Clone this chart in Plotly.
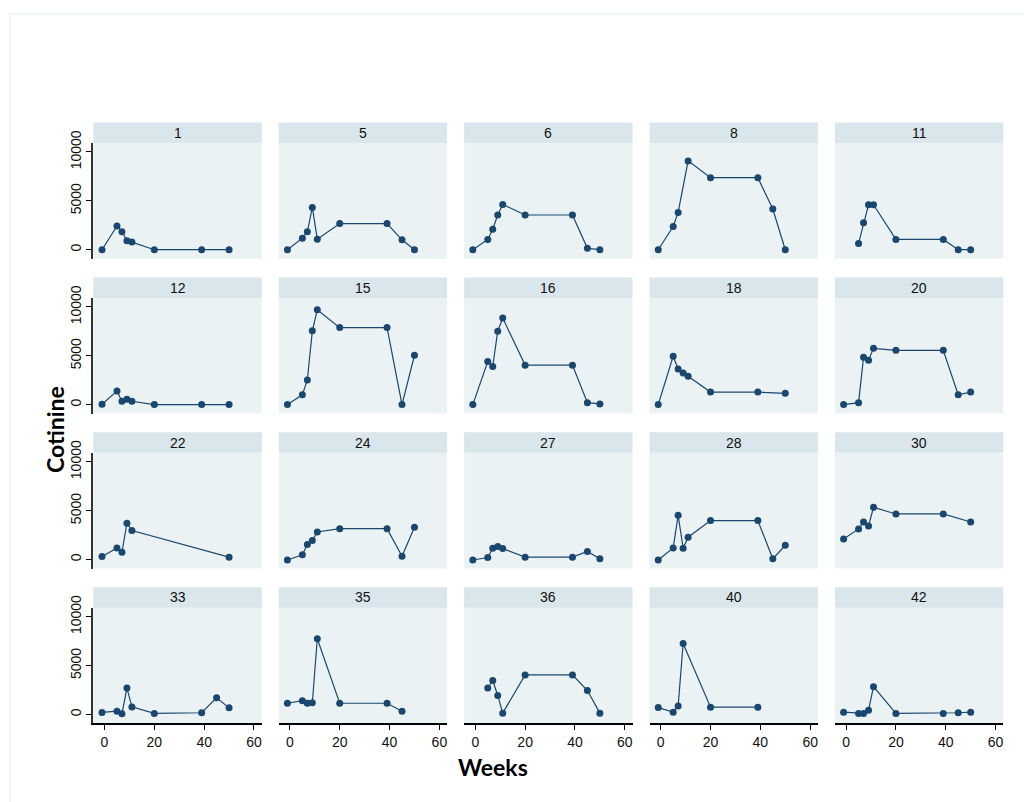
import plotly.graph_objects as go

# ---- data ----
ids = [1, 5, 6, 8, 11, 12, 15, 16, 18, 20, 22, 24, 27, 28, 30, 33, 35, 36, 40, 42]

w1 = [-1, 5, 7, 9, 11, 20, 39, 50]
c1 = [0, 2430, 1830, 910, 780, 0, 0, 0]
w5 = [-1, 5, 7, 9, 11, 20, 39, 45, 50]
c5 = [0, 1180, 1830, 4330, 1080, 2670, 2670, 1010, 0]
w6 = [-1, 5, 7, 9, 11, 20, 39, 45, 50]
c6 = [0, 1050, 2100, 3550, 4630, 3550, 3550, 140, 0]
w8 = [-1, 5, 7, 11, 20, 39, 45, 50]
c8 = [0, 2370, 3820, 9090, 7370, 7370, 4160, 0]
w11 = [5, 7, 9, 11, 20, 39, 45, 50]
c11 = [640, 2770, 4600, 4600, 1050, 1050, 0, 0]
w12 = [-1, 5, 7, 9, 11, 20, 39, 50]
c12 = [30, 1380, 340, 540, 340, 0, 0, 0]
w15 = [-1, 5, 7, 9, 11, 20, 39, 45, 50]
c15 = [0, 1010, 2530, 7550, 9700, 7880, 7880, 0, 5050]
w16 = [-1, 5, 7, 9, 11, 20, 39, 45, 50]
c16 = [0, 4410, 3910, 7510, 8860, 4040, 4040, 200, 70]
w18 = [-1, 5, 7, 9, 11, 20, 39, 50]
c18 = [0, 4950, 3640, 3240, 2900, 1280, 1280, 1150]
w20 = [-1, 5, 7, 9, 11, 20, 39, 45, 50]
c20 = [0, 200, 4850, 4550, 5760, 5560, 5560, 1010, 1280]
w22 = [-1, 5, 7, 9, 11, 50]
c22 = [310, 1190, 750, 3710, 2960, 240]
w24 = [-1, 5, 7, 9, 11, 20, 39, 45, 50]
c24 = [-50, 480, 1530, 1940, 2820, 3160, 3160, 340, 3300]
w27 = [-1, 5, 7, 9, 11, 20, 39, 45, 50]
c27 = [-50, 200, 1160, 1330, 1120, 240, 240, 820, 70]
w28 = [-1, 5, 7, 9, 11, 20, 39, 45, 50]
c28 = [-50, 1190, 4520, 1160, 2280, 3980, 3980, 70, 1460]
w30 = [-1, 5, 7, 9, 11, 20, 39, 50]
c30 = [2110, 3130, 3840, 3430, 5340, 4660, 4660, 3840]
w33 = [-1, 5, 7, 9, 11, 20, 39, 45, 50]
c33 = [200, 330, 70, 2700, 770, 100, 170, 1700, 670]
w35 = [-1, 5, 7, 9, 11, 20, 39, 45]
c35 = [1140, 1400, 1140, 1200, 7750, 1140, 1140, 330]
w36 = [5, 7, 9, 11, 20, 39, 45, 50]
c36 = [2700, 3470, 1940, 130, 4040, 4040, 2440, 130]
w40 = [-1, 5, 7, 9, 20, 39]
c40 = [700, 230, 870, 7250, 740, 740]
w42 = [-1, 5, 7, 9, 11, 20, 39, 45, 50]
c42 = [230, 100, 100, 430, 2840, 100, 100, 170, 230]

series = [(w1, c1), (w5, c5), (w6, c6), (w8, c8), (w11, c11),
          (w12, c12), (w15, c15), (w16, c16), (w18, c18), (w20, c20),
          (w22, c22), (w24, c24), (w27, c27), (w28, c28), (w30, c30),
          (w33, c33), (w35, c35), (w36, c36), (w40, c40), (w42, c42)]

x_ticks = [0, 20, 40, 60]
y_ticks = [0, 5000, 10000]
y_tick_labels = ["0", "5000", "10000"]

# ---- layout geometry (pixels) ----
W, H = 1024, 802
col_x0, col_pitch, col_w = 93.3, 185.4, 168.4
row_y0, row_pitch, strip_h, panel_h = 122.5, 154.9, 20.5, 136.2

NAVY = "#1a476f"
PLOTBG = "#eaf2f3"
STRIPBG = "#d9e6eb"
TICKFONT = dict(family="Arial", size=14, color="#111111")

fig = go.Figure()
shapes = []
annotations = []
layout = {}

def px(x):
    return x / W

def py(y):
    return 1 - y / H

for k, (pid, (wk, cv)) in enumerate(zip(ids, series)):
    r, c = divmod(k, 5)
    n = k + 1
    x0 = col_x0 + c * col_pitch
    x1 = x0 + col_w
    yt = row_y0 + r * row_pitch
    ys = yt + strip_h
    yb = yt + panel_h
    xa = "x" if n == 1 else f"x{n}"
    ya = "y" if n == 1 else f"y{n}"
    fig.add_trace(go.Scatter(
        x=wk, y=cv, xaxis=xa, yaxis=ya, mode="lines+markers",
        line=dict(color=NAVY, width=1.2),
        marker=dict(color=NAVY, size=7),
        showlegend=False, hoverinfo="x+y"))
    bottom = (r == 3)
    left = (c == 0)
    layout["xaxis" if n == 1 else f"xaxis{n}"] = dict(
        domain=[px(x0), px(x1)], anchor=ya, range=[-4.5, 63.1],
        automargin=False,
        showgrid=False, zeroline=False,
        showline=bottom, linecolor="#000000", linewidth=1.5,
        ticks="outside" if bottom else "", ticklen=5, tickwidth=1,
        tickcolor="#000000",
        tickvals=x_ticks, showticklabels=bottom,
        tickfont=TICKFONT,
    )
    layout["yaxis" if n == 1 else f"yaxis{n}"] = dict(
        domain=[py(yb), py(ys)], anchor=xa, range=[-920, 10920],
        automargin=False,
        showgrid=False, zeroline=False,
        showline=left, linecolor="#333333", linewidth=2,
        ticks="outside" if left else "", ticklen=5, tickwidth=1,
        tickcolor="#000000",
        tickvals=y_ticks, ticktext=y_tick_labels,
        showticklabels=left, tickangle=-90,
        tickfont=TICKFONT,
    )
    # plot background
    shapes.append(dict(type="rect", xref="paper", yref="paper",
                       x0=px(x0), x1=px(x1), y0=py(yb), y1=py(ys),
                       fillcolor=PLOTBG, line=dict(width=0), layer="below"))
    # strip
    shapes.append(dict(type="rect", xref="paper", yref="paper",
                       x0=px(x0), x1=px(x1), y0=py(ys), y1=py(yt),
                       fillcolor=STRIPBG, line=dict(width=0), layer="below"))
    annotations.append(dict(text=str(pid), xref="paper", yref="paper",
                            x=px((x0 + x1) / 2), y=py((yt + ys) / 2),
                            xanchor="center", yanchor="middle", showarrow=False,
                            font=dict(family="Arial", size=14, color="#111111")))

# outer frame
shapes.append(dict(type="rect", xref="paper", yref="paper",
                   x0=px(10), x1=px(1030), y0=py(810), y1=py(14),
                   fillcolor="rgba(0,0,0,0)", line=dict(color="#e6ecee", width=1),
                   layer="below"))

annotations.append(dict(text="<b>Cotinine</b>", xref="paper", yref="paper",
                        x=px(55), y=py(430), textangle=-90, showarrow=False,
                        xanchor="center", yanchor="middle",
                        font=dict(family="Lato, Open Sans", size=23, color="#000000")))
annotations.append(dict(text="<b>Weeks</b>", xref="paper", yref="paper",
                        x=px(493), y=py(767), showarrow=False,
                        xanchor="center", yanchor="middle",
                        font=dict(family="Lato, Open Sans", size=23, color="#000000")))

fig.update_layout(
    width=W, height=H, autosize=False,
    margin=dict(l=0, r=0, t=0, b=0, pad=0),
    paper_bgcolor="#ffffff", plot_bgcolor="rgba(0,0,0,0)",
    shapes=shapes, annotations=annotations,
    **layout,
)

post = (
    "document.body.style.margin='0';document.body.style.padding='0';"
    "document.body.style.overflow='hidden';"
    "var d=document.getElementById('{plot_id}');"
    "d.style.position='absolute';d.style.top='0px';d.style.left='0px';"
)

fig.write_html("out.html", post_script=post,
               config={"displayModeBar": False, "responsive": False})
